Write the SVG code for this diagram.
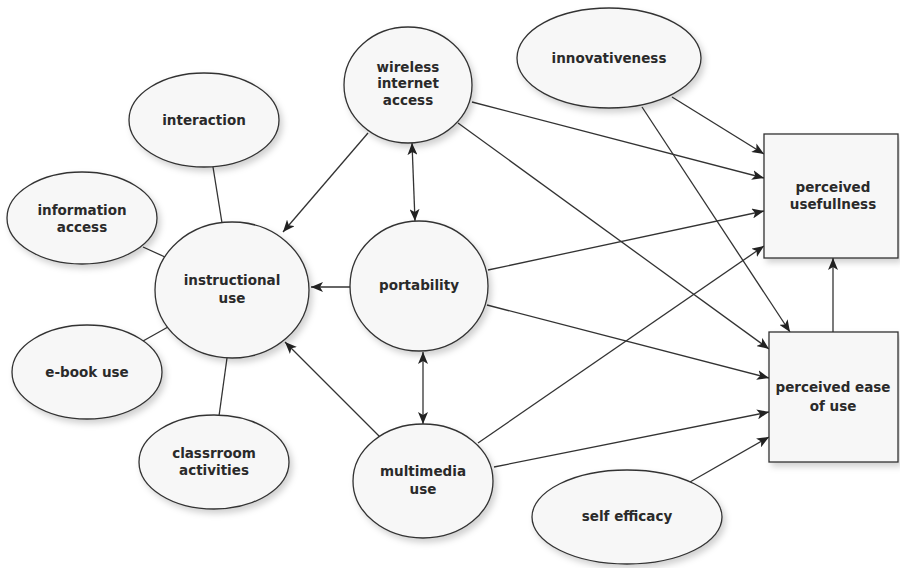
<svg xmlns="http://www.w3.org/2000/svg" width="900" height="568" viewBox="0 0 900 568">
<style>
.n{fill:#f7f7f7;stroke:#333;stroke-width:1.3;filter:url(#sh)}
.t{font-family:"DejaVu Sans",Verdana,sans-serif;font-weight:bold;font-size:13.5px;fill:#2a2a2a;text-anchor:middle}
.c{stroke:#333;stroke-width:1.3;fill:none}
.a{marker-end:url(#ah)}
.d{marker-start:url(#ahs);marker-end:url(#ah)}
</style>
<defs>
<filter id="sh" x="-20%" y="-20%" width="150%" height="150%">
<feDropShadow dx="3" dy="4" stdDeviation="3" flood-color="#000" flood-opacity="0.18"/>
</filter>
<marker id="ah" viewBox="0 0 12 10" refX="12" refY="5" markerWidth="12" markerHeight="10" markerUnits="userSpaceOnUse" orient="auto">
<path d="M0,0 L12,5 L0,10 L3,5 z" fill="#222"/>
</marker>
<marker id="ahs" viewBox="0 0 12 10" refX="12" refY="5" markerWidth="12" markerHeight="10" markerUnits="userSpaceOnUse" orient="auto-start-reverse">
<path d="M0,0 L12,5 L0,10 L3,5 z" fill="#222"/>
</marker>
</defs>
<rect width="900" height="568" fill="#fff"/>
<g id="connectors">
<line class="c" x1="213" y1="167" x2="222" y2="223"/>
<line class="c" x1="143" y1="247" x2="165" y2="257"/>
<line class="c" x1="143" y1="341" x2="168" y2="327"/>
<line class="c" x1="227" y1="358" x2="219" y2="416"/>
<line class="c a" x1="368" y1="133" x2="283" y2="232"/>
<line class="c a" x1="350" y1="287" x2="311" y2="287"/>
<line class="c a" x1="380" y1="437" x2="285" y2="342"/>
<line class="c d" x1="412" y1="143" x2="415" y2="221"/>
<line class="c d" x1="423" y1="352" x2="423" y2="424"/>
<line class="c a" x1="472" y1="102" x2="764" y2="178"/>
<line class="c a" x1="458" y1="123" x2="769" y2="349"/>
<line class="c a" x1="672" y1="97" x2="764" y2="154"/>
<line class="c a" x1="642" y1="107" x2="790" y2="332"/>
<line class="c a" x1="488" y1="270" x2="764" y2="211"/>
<line class="c a" x1="487" y1="305" x2="769" y2="378"/>
<line class="c a" x1="478" y1="443" x2="764" y2="246"/>
<line class="c a" x1="494" y1="467" x2="769" y2="412"/>
<line class="c a" x1="690" y1="482" x2="769" y2="437"/>
<line class="c a" x1="833" y1="332" x2="833" y2="258"/>
</g>
<g id="interaction"><ellipse class="n" cx="204" cy="120" rx="75" ry="47"/><text class="t" x="204" y="125">interaction</text></g>
<g id="information-access"><ellipse class="n" cx="82" cy="218" rx="75" ry="46"/><text class="t" x="82" y="215">information</text><text class="t" x="82" y="232">access</text></g>
<g id="instructional-use"><ellipse class="n" cx="232" cy="290" rx="77" ry="68"/><text class="t" x="232" y="285">instructional</text><text class="t" x="232" y="303">use</text></g>
<g id="e-book-use"><ellipse class="n" cx="87" cy="372" rx="75" ry="47"/><text class="t" x="87" y="377">e-book use</text></g>
<g id="classroom-activities"><ellipse class="n" cx="214" cy="462" rx="75" ry="47"/><text class="t" x="214" y="458">classrroom</text><text class="t" x="214" y="475">activities</text></g>
<g id="wireless-internet-access"><ellipse class="n" cx="408" cy="85" rx="64" ry="58"/><text class="t" x="408" y="72">wireless</text><text class="t" x="408" y="88">internet</text><text class="t" x="408" y="105">access</text></g>
<g id="portability"><ellipse class="n" cx="419" cy="286" rx="69" ry="65"/><text class="t" x="419" y="290">portability</text></g>
<g id="multimedia-use"><ellipse class="n" cx="423" cy="481" rx="70" ry="57"/><text class="t" x="423" y="476">multimedia</text><text class="t" x="423" y="494">use</text></g>
<g id="innovativeness"><ellipse class="n" cx="609" cy="58" rx="92" ry="50"/><text class="t" x="609" y="63">innovativeness</text></g>
<g id="self-efficacy"><ellipse class="n" cx="627" cy="517" rx="95" ry="47"/><text class="t" x="627" y="521">self efficacy</text></g>
<g id="perceived-usefullness"><rect class="n" x="764" y="134" width="134" height="124"/><text class="t" x="833" y="192">perceived</text><text class="t" x="833" y="209">usefullness</text></g>
<g id="perceived-ease-of-use"><rect class="n" x="769" y="332" width="129" height="130"/><text class="t" x="833" y="392">perceived ease</text><text class="t" x="833" y="411">of use</text></g>
</svg>
